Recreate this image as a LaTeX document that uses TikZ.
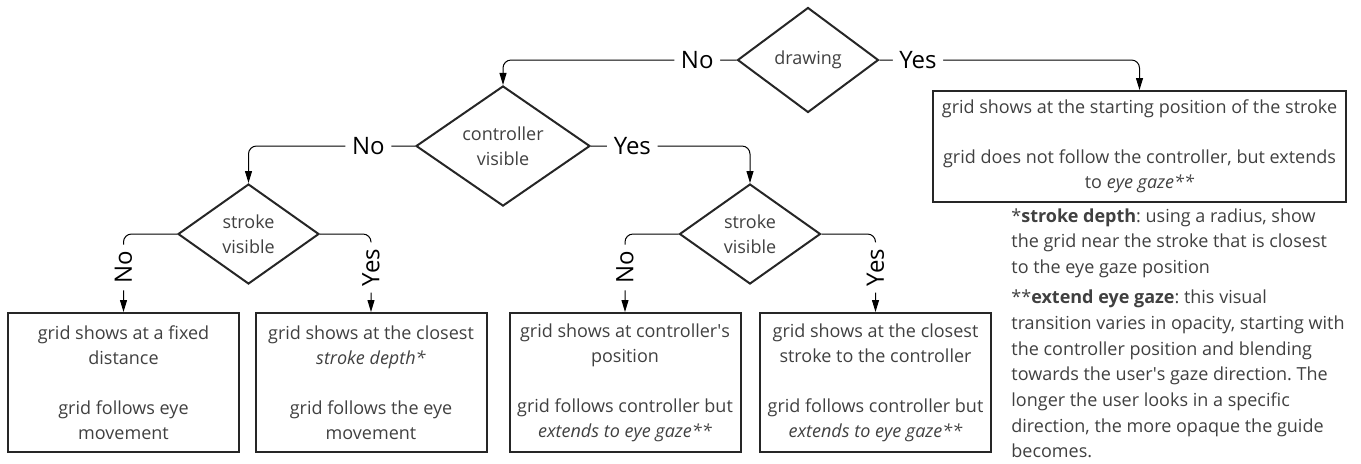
\documentclass[tikz,border=0pt]{standalone}
\usepackage{fontspec}
\setmainfont{Open Sans}
\usetikzlibrary{arrows.meta,shapes.geometric}
\definecolor{txt}{HTML}{404040}
\definecolor{edge}{HTML}{262626}
\frenchspacing

\begin{document}
\begin{tikzpicture}[
    x=0.5pt, y=-0.5pt,
    decision/.style={draw=edge, diamond, line width=1pt, inner sep=0pt, align=center, text=txt, font=\fontsize{9}{12.5}\selectfont},
    outcome/.style={draw=edge, line width=1pt, align=center, text=txt, inner sep=0pt, minimum width=115.5pt, minimum height=69.5pt, font=\fontsize{9}{12.5}\selectfont},
    arrow/.style={-{Triangle[length=6pt,width=3.5pt]}, line width=0.5pt, rounded corners=4pt},
    lab/.style={font=\fontsize{12}{13}\selectfont, fill=white, inner sep=3.3pt},
    >=Stealth
  ]
    \useasboundingbox (0,0) rectangle (1361,463);

    % decisions
    \node[decision, minimum width=70.5pt, minimum height=52.5pt] (draw) at (808,60)  {drawing};
    \node[decision, minimum width=87pt, minimum height=50.5pt]   (ctrl) at (503,146) {controller\\visible};
    \node[decision, minimum width=70.5pt, minimum height=50pt]   (sv1)  at (248.5,234) {stroke\\visible};
    \node[decision, minimum width=70.5pt, minimum height=50pt]   (sv2)  at (750,234)   {stroke\\visible};

    % outcomes
    \node[outcome] (fixed)  at (123.5,382.5) {grid shows at a fixed\\distance\\[12.5pt]grid follows eye\\movement};
    \node[outcome] (depth)  at (371,382.5)   {grid shows at the closest\\\textit{stroke depth*}\\[12.5pt]grid follows the eye\\movement};
    \node[outcome] (cpos)   at (625,382.5)   {grid shows at controller\textquotesingle s\\position\\[12.5pt]grid follows controller but\\\textit{extends to eye gaze**}};
    \node[outcome] (cstr)   at (875.5,382.5) {grid shows at the closest\\stroke to the controller\\[12.5pt]grid follows controller but\\\textit{extends to eye gaze**}};
    \node[outcome, minimum width=206.5pt, minimum height=55.5pt] (start) at (1139.5,146.5)
      {grid shows at the starting position of the stroke\\[12.5pt]grid does not follow the controller, but extends\\to \textit{eye gaze**}};

    % footnotes
    \node[anchor=north west, align=left, inner sep=0pt, text=txt, font=\fontsize{9}{12.85}\selectfont] (notes) at (1011,208)
      {*\textbf{stroke depth}: using a radius, show\\the grid near the stroke that is closest\\to the eye gaze position\\[2.3pt]
       **\textbf{extend eye gaze}: this visual\\transition varies in opacity, starting with\\the controller position and blending\\towards the user\textquotesingle s gaze direction. The\\longer the user looks in a specific\\direction, the more opaque the guide\\becomes.};

    \draw[arrow] (draw.west) -| node[lab, pos=0.084]{No}  (ctrl.north);
    \draw[arrow] (draw.east) -| node[lab, pos=0.074]{Yes} (start.north);
    \draw[arrow] (ctrl.west) -| node[lab, pos=0.14]{No}   (sv1.north);
    \draw[arrow] (ctrl.east) -| node[lab, pos=0.13]{Yes}  (sv2.north);
    \draw[arrow] (sv1.west) -| node[lab, rotate=90, pos=0.715]{No}  (fixed.north);
    \draw[arrow] (sv1.east) -| node[lab, rotate=90, pos=0.715]{Yes} (depth.north);
    \draw[arrow] (sv2.west) -| node[lab, rotate=90, pos=0.715]{No}  (cpos.north);
    \draw[arrow] (sv2.east) -| node[lab, rotate=90, pos=0.715]{Yes} (cstr.north);
  \end{tikzpicture}
\end{document}
